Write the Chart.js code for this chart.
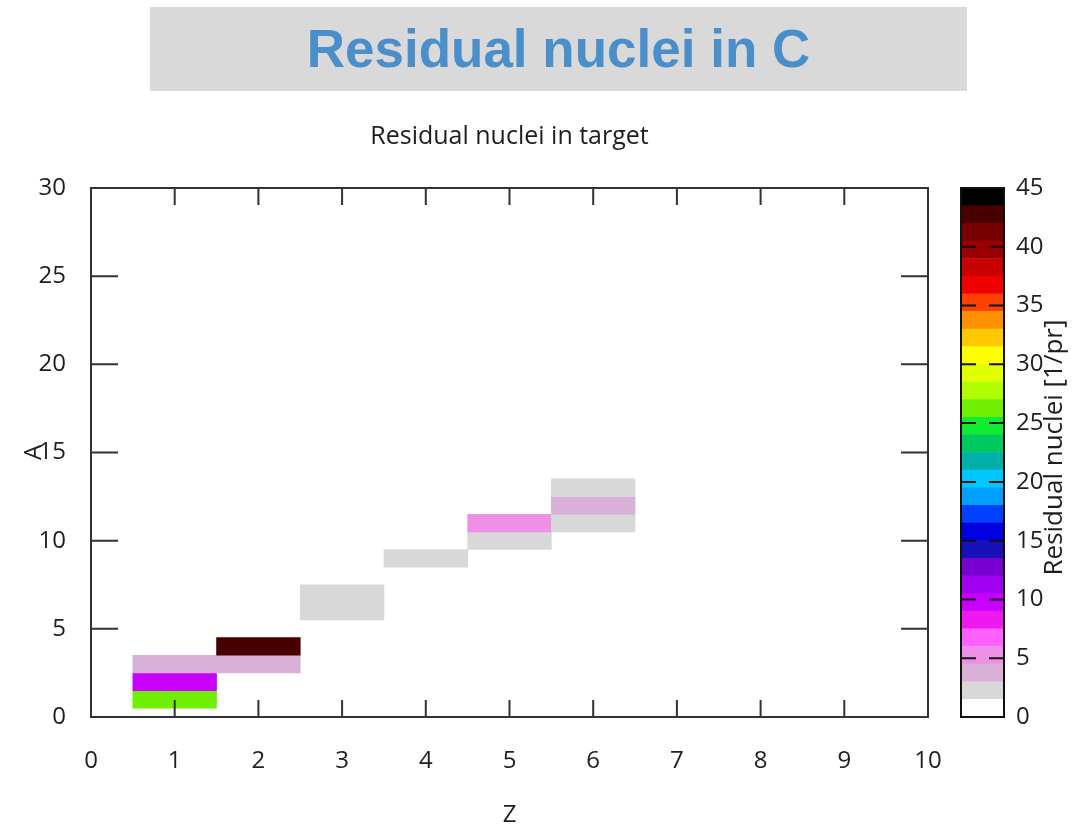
<!DOCTYPE html>
<html>
<head>
<meta charset="utf-8">
<title>Residual nuclei in C</title>
<script src="https://cdn.jsdelivr.net/npm/chart.js@4.4.1/dist/chart.umd.min.js"></script>
<style>
  body {
    margin: 0;
    width: 1089px;
    height: 827px;
    overflow: hidden;
    position: relative;
    background: #fff;
  }
  #header {
    position: absolute;
    left: 150px;
    top: 7px;
    width: 817px;
    height: 84px;
    background: #d9d9d9;
    color: #4a8fca;
    font: bold 53px "Liberation Sans", Arial, sans-serif;
    line-height: 84px;
    text-align: center;
  }
  #mainChart { position: absolute; left: 0; top: 100px; }
  #barChart { position: absolute; left: 940px; top: 100px; }
</style>
</head>
<body>
<div id="header">Residual nuclei in C</div>
<canvas id="mainChart" width="950" height="730"></canvas>
<canvas id="barChart" width="149" height="727"></canvas>
<script>
// residual nuclei: charge Z, mass A, yield [1/pr]
const zValues = [1, 1, 1, 2, 2, 3, 3, 4, 5, 5, 6, 6, 6];
const aValues = [1, 2, 3, 3, 4, 6, 7, 9, 10, 11, 11, 12, 13];
const yieldValues = [26, 10, 4, 4, 43, 2, 2, 2, 2, 5, 2, 4, 2];

// colour bar 0..45, bottom band first
const cbMax = 45;
const cbColors = [
  "#ffffff", "#d8d8d8", "#d8b0d8", "#ee90e8", "#ff60ff", "#f018f0",
  "#c800ff", "#a000f0", "#7800d0", "#1810b8", "#0000e0", "#0040ff",
  "#00a0ff", "#00c8ff", "#00b0a8", "#00c860", "#10ec30", "#70f000",
  "#b0ff00", "#e0ff00", "#ffff00", "#ffc800", "#ff9000", "#ff4000",
  "#f00000", "#c80000", "#9a0000", "#780000", "#480000", "#000000",
];
const bandSize = cbMax / cbColors.length;

const getElById = (id) => document.getElementById(id);
const colorFor = (v) =>
  cbColors[Math.min(cbColors.length - 1, Math.floor(v / bandSize))];

const textColor = "#1e1e1e";
const tickFont = { family: "Open Sans", size: 24 };

const framePlugin = {
  id: "frame",
  afterDatasetsDraw(chart) {
    const { ctx, chartArea: a, scales } = chart;
    const x = scales.x;
    const y = scales.y;
    ctx.save();
    ctx.strokeStyle = "#333";
    ctx.lineWidth = 2;
    ctx.beginPath();
    x.ticks.forEach((t) => {
      if (t.value <= x.min || t.value >= x.max) return;
      const px = x.getPixelForValue(t.value);
      ctx.moveTo(px, a.bottom);
      ctx.lineTo(px, a.bottom - 17);
      ctx.moveTo(px, a.top);
      ctx.lineTo(px, a.top + 17);
    });
    y.ticks.forEach((t) => {
      if (t.value <= y.min || t.value >= y.max) return;
      const py = y.getPixelForValue(t.value);
      ctx.moveTo(a.left, py);
      ctx.lineTo(a.left + 27, py);
      ctx.moveTo(a.right, py);
      ctx.lineTo(a.right - 27, py);
    });
    ctx.stroke();
    ctx.strokeRect(a.left, a.top, a.right - a.left, a.bottom - a.top);
    ctx.restore();
  },
};

const colorBarPlugin = {
  id: "colorBarFrame",
  afterDatasetsDraw(chart) {
    const { ctx, chartArea: a } = chart;
    const y = chart.scales.y;
    ctx.save();
    ctx.strokeStyle = "#111";
    ctx.lineWidth = 2;
    ctx.beginPath();
    y.ticks.forEach((t) => {
      if (t.value <= y.min || t.value >= y.max) return;
      const py = y.getPixelForValue(t.value);
      ctx.moveTo(a.left, py);
      ctx.lineTo(a.left + 15, py);
      ctx.moveTo(a.right, py);
      ctx.lineTo(a.right - 15, py);
    });
    ctx.stroke();
    ctx.strokeRect(a.left, a.top, a.right - a.left, a.bottom - a.top);
    ctx.restore();
  },
  afterDraw(chart) {
    const { ctx, chartArea: a } = chart;
    ctx.save();
    ctx.translate(a.right + 51, (a.top + a.bottom) / 2 - 5);
    ctx.rotate(-Math.PI / 2);
    ctx.fillStyle = textColor;
    ctx.font = "26px 'Open Sans'";
    ctx.textAlign = "center";
    ctx.textBaseline = "middle";
    ctx.fillText("Residual nuclei [1/pr]", 0, 0);
    ctx.restore();
  },
};

const renderMainChart = () => {
  const cells = zValues.map((z, i) => ({
    x: z,
    y: [aValues[i] - 0.5, aValues[i] + 0.5],
  }));
  new Chart(getElById("mainChart"), {
    type: "bar",
    data: {
      datasets: [
        {
          data: cells,
          backgroundColor: yieldValues.map(colorFor),
          borderWidth: 0,
          barPercentage: 1,
          categoryPercentage: 1,
        },
      ],
    },
    options: {
      responsive: false,
      animation: false,
      layout: { padding: { left: 0, right: 22, top: 0, bottom: 0 } },
      plugins: {
        legend: { display: false },
        tooltip: { enabled: false },
        title: {
          display: true,
          text: "Residual nuclei in target",
          fullSize: false,
          color: textColor,
          font: { family: "Open Sans", size: 25, weight: "normal" },
          padding: { top: 22, bottom: 36 },
        },
      },
      scales: {
        x: {
          type: "linear",
          min: 0,
          max: 10,
          offset: false,
          grid: { display: false, drawTicks: false },
          border: { display: false },
          ticks: { stepSize: 1, color: textColor, font: tickFont, padding: 30, maxRotation: 0 },
          title: { display: true, text: "Z", color: textColor, font: tickFont, padding: 0 },
          afterFit: (s) => {
            s.height = 113;
            s.paddingLeft = 0;
            s.paddingRight = 0;
          },
        },
        y: {
          type: "linear",
          min: 0,
          max: 30,
          grid: { display: false, drawTicks: false },
          border: { display: false },
          ticks: { stepSize: 5, color: textColor, font: tickFont, padding: 25 },
          title: { display: true, text: "A", color: textColor, font: tickFont, padding: { top: 20, bottom: 0 } },
          afterFit: (s) => {
            s.width = 91;
            s.paddingTop = 0;
            s.paddingBottom = 0;
          },
        },
      },
    },
    plugins: [framePlugin],
  });
};

const renderColorBar = () => {
  new Chart(getElById("barChart"), {
    type: "bar",
    data: {
      labels: [""],
      datasets: cbColors.map((c) => ({
        data: [bandSize],
        backgroundColor: c,
        borderWidth: 0,
        barPercentage: 1,
        categoryPercentage: 1,
      })),
    },
    options: {
      responsive: false,
      animation: false,
      layout: { padding: { left: 21, right: 0, top: 88, bottom: 110 } },
      plugins: {
        legend: { display: false },
        tooltip: { enabled: false },
      },
      scales: {
        x: { display: false, stacked: true },
        y: {
          stacked: true,
          position: "right",
          min: 0,
          max: cbMax,
          grid: { display: false, drawTicks: false },
          border: { display: false },
          ticks: { stepSize: 5, color: textColor, font: tickFont, padding: 12 },
          afterFit: (s) => {
            s.width = 85;
            s.paddingTop = 0;
            s.paddingBottom = 0;
          },
        },
      },
    },
    plugins: [colorBarPlugin],
  });
};

renderMainChart();
renderColorBar();
</script>
</body>
</html>
